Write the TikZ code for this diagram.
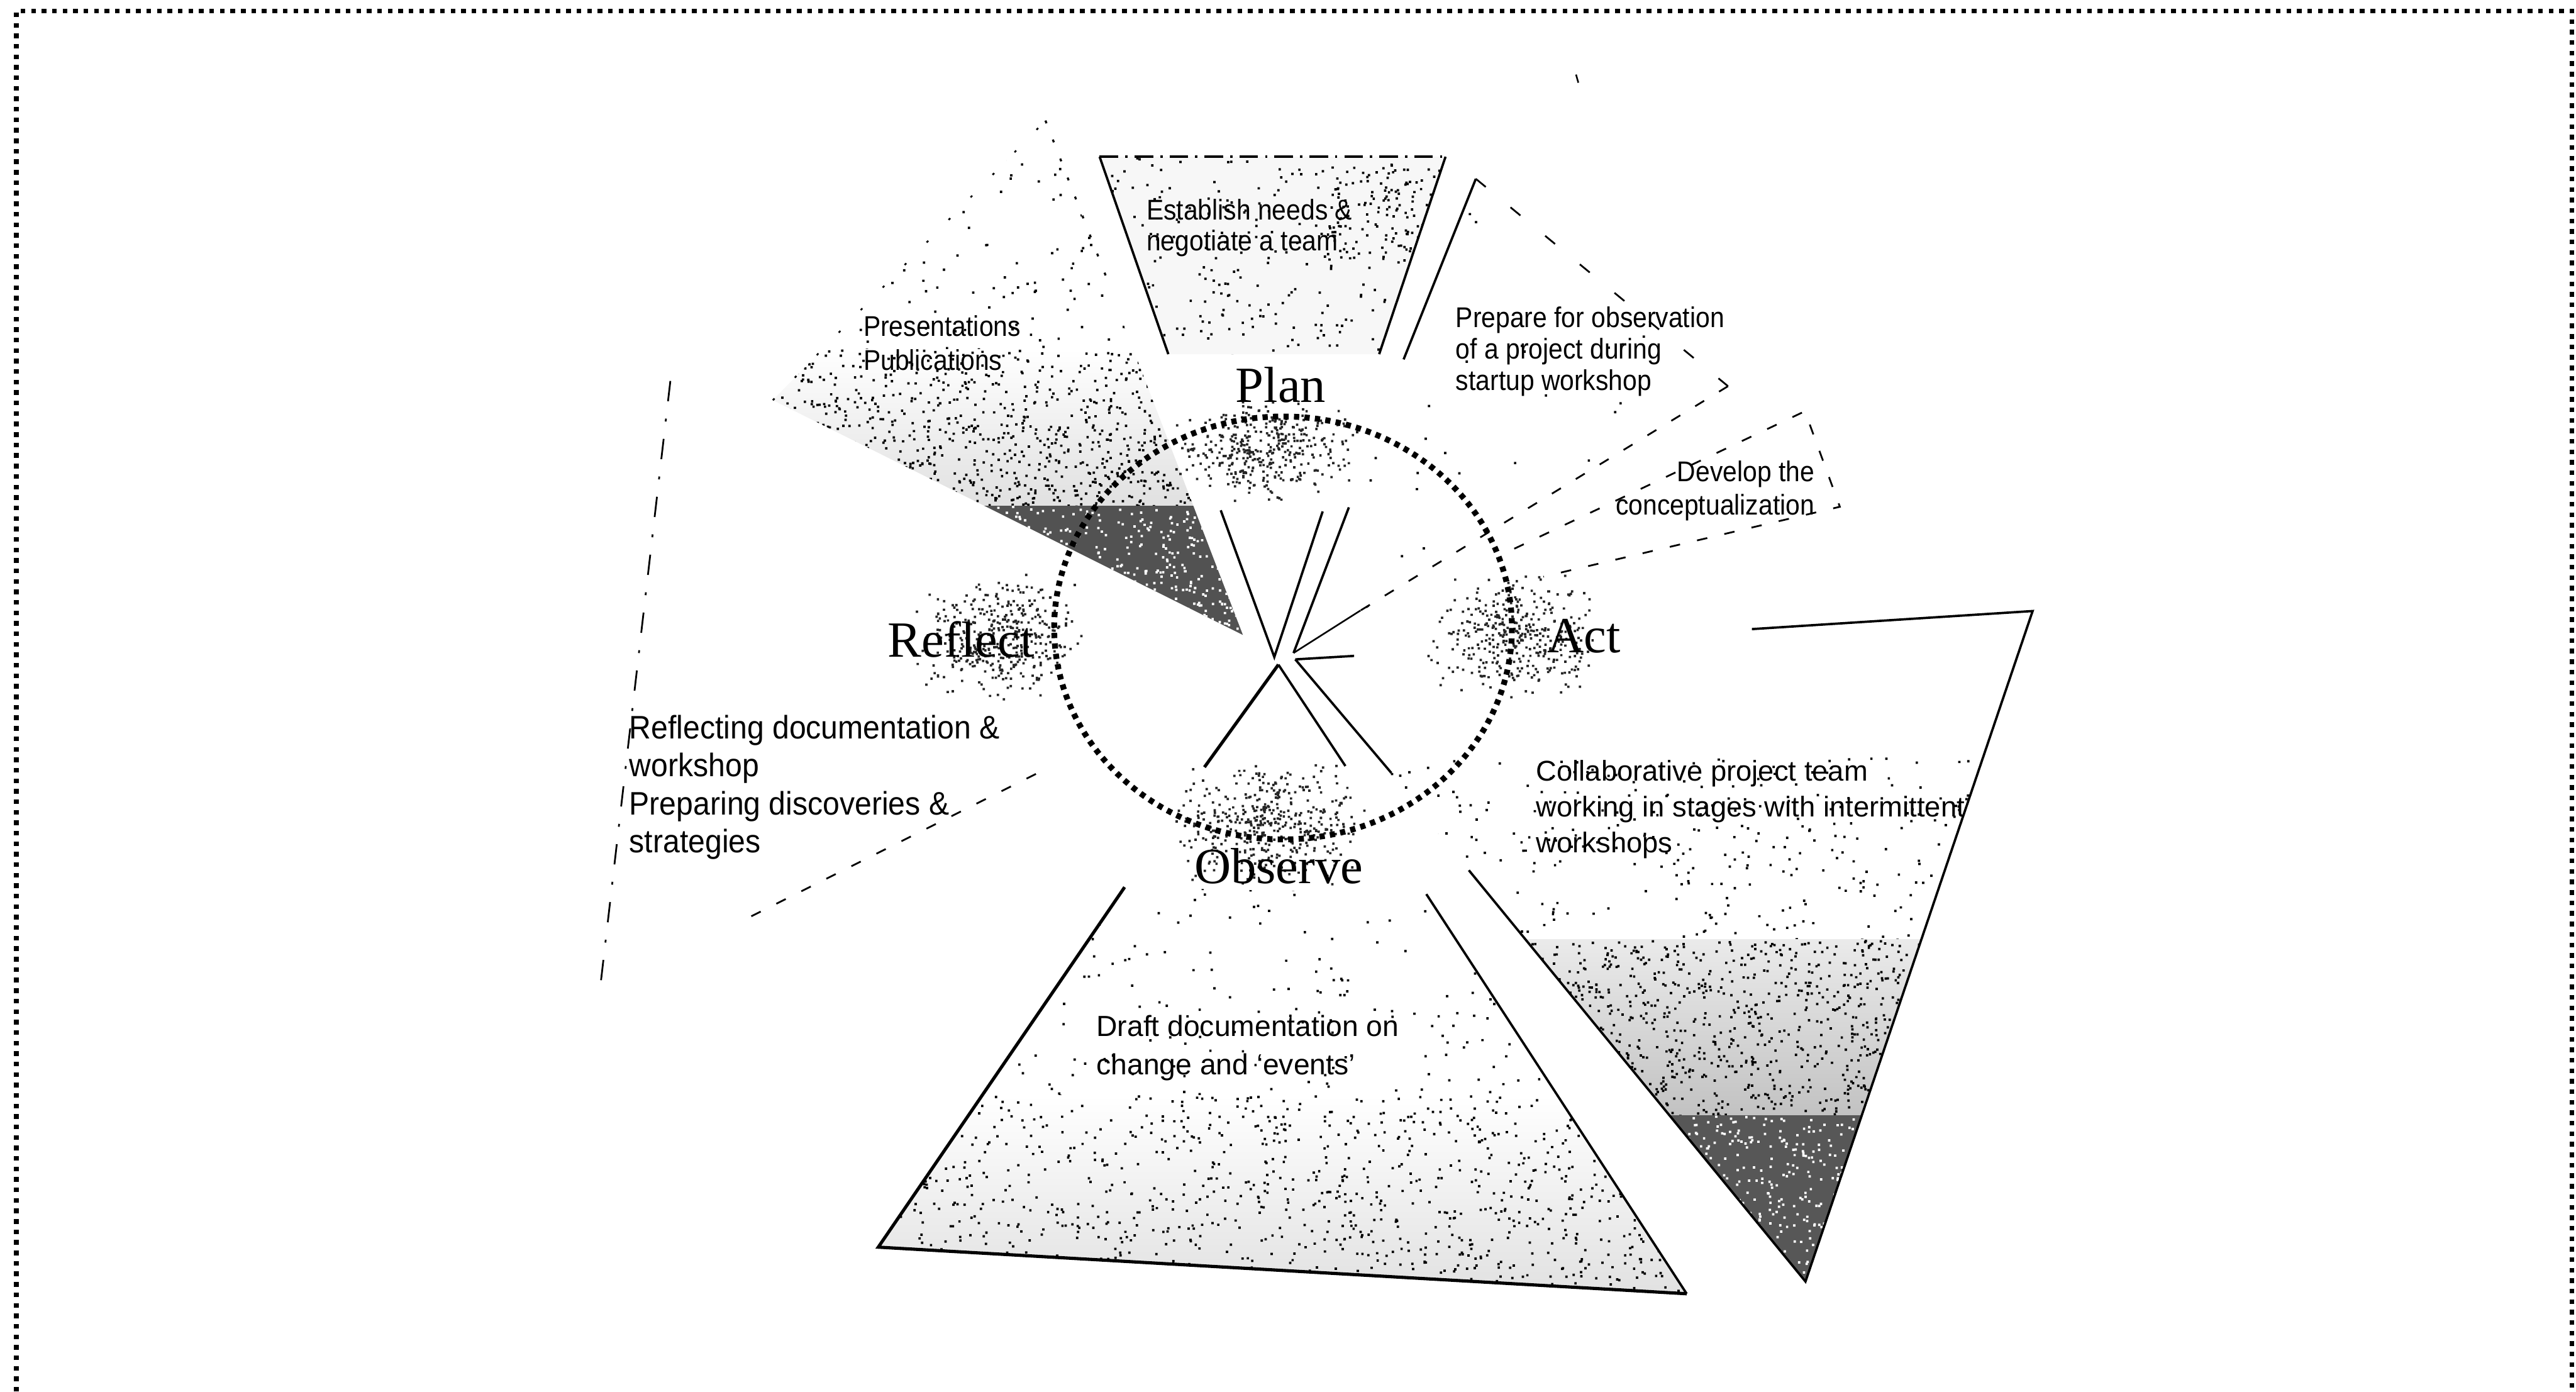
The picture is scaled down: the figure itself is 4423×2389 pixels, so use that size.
\documentclass[tikz,border=0pt]{standalone}
\usepackage{fontspec}
\setmainfont{Liberation Serif}
\newfontfamily\narrowsans[FakeStretch=0.9]{Liberation Sans}
\newfontfamily\plainsans{Liberation Sans}
\newfontfamily\widesans[FakeStretch=0.93]{Liberation Sans}

% scatter #2 square specks (side #7, colour #1) over the box at (#3,#4) of size #5 x #6
\newcommand\speckle[7][black]{%
  \fill[#1] \foreach \ii [evaluate=\ii as \sx using #3+#5*rnd,
                          evaluate=\ii as \sy using #4+#6*rnd] in {1,...,#2}
        {(\sx,\sy) rectangle ++(#7,#7)};}
% a soft cloud of #1 specks around (#2,#3) with half-axes #4 and #5
\newcommand\cloud[5]{%
  \fill[black!85] \foreach \ii [evaluate=\ii as \sx using #2+#4*(rnd+rnd-1),
                      evaluate=\ii as \sy using #3+#5*(rnd+rnd-1)] in {1,...,#1}
        {(\sx,\sy) rectangle ++(4,4)};}

\begin{document}
\begin{tikzpicture}[x=0.01cm,y=-0.01cm,
  edge/.style={line width=0.04cm},
  heavyedge/.style={line width=0.055cm},
  thinedge/.style={line width=0.028cm},
  dashdotedge/.style={line width=0.035cm,dash pattern=on 0.32cm off 0.12cm on 0.04cm off 0.12cm},
  ragged/.style={line width=0.03cm,dash pattern=on 0.35cm off 0.3cm on 0.05cm off 0.3cm},
  sparsedash/.style={line width=0.03cm,dash pattern=on 0.18cm off 0.3cm},
  looseedge/.style={line width=0.03cm,dash pattern=on 0.22cm off 0.55cm},
  dotedge/.style={line width=0.035cm,dash pattern=on 0.05cm off 0.3cm},
  faintdots/.style={line width=0.03cm,dash pattern=on 0.04cm off 0.5cm},
  ring/.style={line width=0.1cm,dash pattern=on 0.09cm off 0.09cm},
  framedots/.style={line width=0.08cm,dash pattern=on 0.08cm off 0.1cm},
  stage/.style={inner sep=0pt,anchor=base west,font=\fontsize{24.75pt}{28pt}\selectfont},
  note/.style={inner sep=0pt,anchor=base west,align=left},
]
\useasboundingbox (0,0) rectangle (4423,2389);
\fill[white] (0,0) rectangle (4423,2389);
\pgfmathsetseed{4711}

% ---- wedge corners -------------------------------------------------
% top wedge (Plan side)
\coordinate (tA)  at (2188,1128);
\coordinate (tL)  at (1888,269);
\coordinate (tR)  at (2482,269);
\coordinate (tLi) at (2006,608);
\coordinate (tRi) at (2368,608);
\coordinate (tLc) at (2096,876);
\coordinate (tRc) at (2271,878);
% upper right wedge (preparation)
\coordinate (pA)   at (2221,1121);
\coordinate (pT)   at (2534,307);
\coordinate (pTi)  at (2410,617);
\coordinate (pC)   at (2316,871);
\coordinate (pTip) at (2967,663);
\coordinate (pM)   at (2336,1048);
% conceptualisation wedge
\coordinate (dS) at (2600,942);
\coordinate (dU) at (3099,706);
\coordinate (dL) at (3159,870);
\coordinate (dE) at (2650,990);
% right wedge (Act side)
\coordinate (rC)  at (2224,1132);
\coordinate (rP1) at (3490,1049);
\coordinate (rP2) at (3100,2200);
\coordinate (rTi) at (3008,1080);
\coordinate (rLi) at (2522,1494);
\coordinate (rC1) at (2325,1126);
\coordinate (rC2) at (2389,1327);
% bottom wedge (Observe side)
\coordinate (bA)  at (2195,1141);
\coordinate (bL)  at (1508,2141);
\coordinate (bR)  at (2896,2221);
\coordinate (bLi) at (1931,1523);
\coordinate (bRi) at (2449,1535);
\coordinate (bA1) at (2068,1317);
\coordinate (bA2) at (2310,1315);
% upper left wedge (publications)
\coordinate (uA)  at (2134,1090);
\coordinate (uR)  at (1795,207);
\coordinate (uL)  at (1327,687);
\coordinate (uRi) at (1905,490);
% left wedge (Reflect side)
\coordinate (lT) at (1151,654);
\coordinate (lB) at (1030,1700);
\coordinate (lS) at (1290,1573);
\coordinate (lE) at (1800,1318);

% ---- stippled fillings ----------------------------------------------
\begin{scope}
  \clip (uA) -- (uR) -- (uL) -- cycle;
  \speckle{200}{1300}{207}{700}{437}{4}
  \shade[top color=white,bottom color=black!12] (1300,600) rectangle (2150,868);
  \speckle{350}{1300}{600}{800}{120}{4}
  \speckle{650}{1300}{720}{800}{148}{4}
  \fill[black!68] (1600,868) rectangle (2150,1100);
  \speckle[white]{600}{1600}{868}{550}{232}{4}
\end{scope}

\begin{scope}
  \clip (rC) -- (rP1) -- (rP2) -- cycle;
  \speckle{380}{2300}{1300}{1200}{313}{4}
  \shade[top color=black!8,bottom color=black!24] (2500,1613) rectangle (3400,1915);
  \speckle{1000}{2580}{1613}{740}{302}{4}
  \fill[black!66] (2800,1915) rectangle (3250,2210);
  \speckle[white]{450}{2840}{1915}{380}{290}{4}
\end{scope}

\begin{scope}
  \clip (tL) -- (tR) -- (tRi) -- (tLi) -- cycle;
  \fill[black!3] (1880,260) rectangle (2490,610);
  \speckle{280}{1880}{269}{610}{340}{4}
  \speckle{110}{2280}{280}{200}{170}{4}
\end{scope}

\begin{scope}
  \clip (bLi) -- (bRi) -- (bR) -- (bL) -- cycle;
  \speckle{260}{1500}{1523}{1400}{415}{4}
  \shade[top color=white,bottom color=black!12] (1500,1880) rectangle (2900,2230);
  \speckle{350}{1500}{1880}{1400}{120}{4}
  \speckle{800}{1500}{2000}{1400}{230}{4}
\end{scope}

% a few loose specks inside the preparation wedge
\begin{scope}
  \clip (pA) -- (pT) -- (pTip) -- cycle;
  \speckle{60}{2300}{320}{680}{780}{4}
\end{scope}

% soft clouds behind the four stage names
\cloud{380}{2175}{770}{170}{90}
\cloud{380}{1715}{1090}{150}{110}
\cloud{380}{2600}{1090}{150}{110}
\cloud{420}{2175}{1410}{170}{110}

% ---- wedge outlines -------------------------------------------------
\draw[edge] (tLi) -- (tL);
\draw[dashdotedge] (tL) -- (tR);
\draw[edge] (tR) -- (tRi);
\draw[edge] (tLc) -- (tA) -- (tRc);

\draw[edge] (pT) -- (pTi);
\draw[edge] (pC) -- (pA);
\draw[looseedge] (pT) -- (pTip);
\draw[sparsedash] (pTip) -- (pM);
\draw[thinedge] (pM) -- (pA);

\draw[sparsedash] (dS) -- (dU) -- (dL) -- (dE);

\draw[edge] (rTi) -- (rP1) -- (rP2) -- (rLi);
\draw[edge] (rC) -- (rC1);
\draw[edge] (rC) -- (rC2);

\draw[heavyedge] (bLi) -- (bL) -- (bR);
\draw[edge] (bRi) -- (bR);
\draw[heavyedge] (bA) -- (bA1);
\draw[edge] (bA) -- (bA2);

\draw[dotedge] (uR) -- (uRi);
\draw[faintdots] (uL) -- (uR);

\draw[ragged] (lT) -- (lB);
\draw[sparsedash] (lS) -- (lE);

% small stray tick above the top wedge
\coordinate (tick) at (2706,128);
\draw[thinedge] (tick) -- ++(4,14);

% ---- the cycle ring and the frame -----------------------------------
\draw[ring] (2203,1078) ellipse [x radius=393, y radius=363];
\draw[framedots] (28,2389) -- (28,19) -- (4416,19) -- (4416,2389);

% ---- stage names ----------------------------------------------------
\node[stage] (plan)    at (2121,691)  {Plan};
\node[stage] (act)     at (2656,1120) {Act};
\node[stage] (reflect) at (1524,1128) {Reflect};
\node[stage] (observe) at (2050,1517) {Observe};

% ---- descriptions (placed at the baseline of their last line) -------
\node[note,font=\narrowsans\fontsize{13.94pt}{15.1pt}\selectfont] (needs) at (1968,430)
  {Establish needs \&\\negotiate a team};
\node[note,font=\narrowsans\fontsize{13.94pt}{16.5pt}\selectfont] (pubs) at (1482,635)
  {Presentations\\Publications};
\node[note,font=\narrowsans\fontsize{13.94pt}{15.4pt}\selectfont] (prepare) at (2499,670)
  {Prepare for observation\\of a project during\\startup workshop};
\node[note,align=right,anchor=base east,font=\narrowsans\fontsize{13.94pt}{16.2pt}\selectfont] (develop) at (3116,884)
  {Develop the\\conceptualization};
\node[note,font=\plainsans\fontsize{13.94pt}{17.6pt}\selectfont] (collab) at (2637,1464)
  {Collaborative project team\\working in stages with intermittent\\workshops};
\node[note,font=\plainsans\fontsize{14.2pt}{18.9pt}\selectfont] (draft) at (1882,1845)
  {Draft documentation on\\change and ‘events’};
\node[note,font=\widesans\fontsize{15.9pt}{18.6pt}\selectfont] (reflecting) at (1080,1464)
  {Reflecting documentation \&\\workshop\\Preparing discoveries \&\\strategies};
\end{tikzpicture}
\end{document}
